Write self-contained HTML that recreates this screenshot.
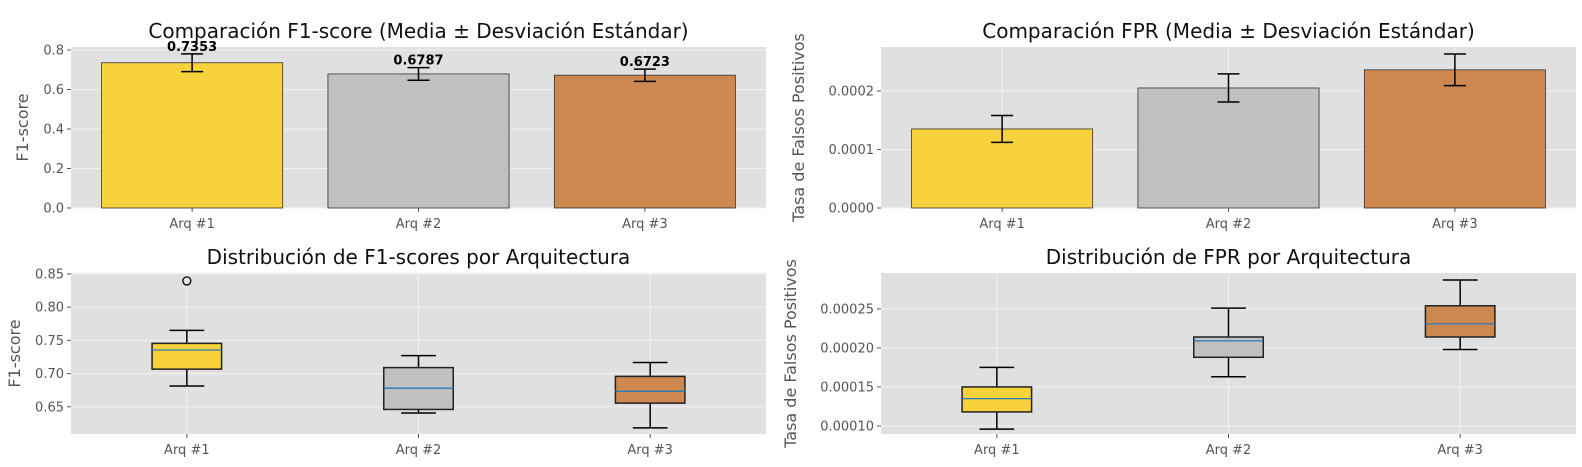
<!DOCTYPE html>
<html><head><meta charset="utf-8">
<style>
html,body{margin:0;padding:0;background:#fff;}
svg{display:block;font-family:"DejaVu Sans","Liberation Sans",sans-serif;}
</style></head>
<body>
<svg id="fig" width="1582" height="467" viewBox="0 0 1582 467" xmlns="http://www.w3.org/2000/svg"></svg>
<script>
const categories = ["Arq #1","Arq #2","Arq #3"];
const colors = ["#f8d23c","#c0c0c0","#cd884f"];
const f1Means = [0.7353,0.6787,0.6723];
const f1Stds = [0.045,0.032,0.031];
const fprMeans = [0.000135,0.000205,0.000236];
const fprStds = [0.000023,0.000024,0.000027];
const f1Ticks = [0.0,0.2,0.4,0.6,0.8];
const f1TickLabels = ["0.0","0.2","0.4","0.6","0.8"];
const fprTicks = [0,0.0001,0.0002];
const fprTickLabels = ["0.0000","0.0001","0.0002"];
// box stats: [whisLo, q1, median, q3, whisHi]
const f1Box1 = [0.6813,0.7067,0.7355,0.7455,0.765];
const f1Box2 = [0.6406,0.646,0.678,0.709,0.727];
const f1Box3 = [0.6182,0.6555,0.6733,0.6958,0.7167];
const f1Outliers = [[0.8396],[],[]];
const fprBox1 = [0.000096,0.000118,0.000135,0.00015,0.000175];
const fprBox2 = [0.000163,0.000188,0.000209,0.000214,0.000251];
const fprBox3 = [0.000198,0.000214,0.000231,0.000254,0.000287];
const fprOutliers = [[],[],[]];
const f1BoxTicks = [0.65,0.70,0.75,0.80,0.85];
const f1BoxTickLabels = ["0.65","0.70","0.75","0.80","0.85"];
const fprBoxTicks = [0.0001,0.00015,0.0002,0.00025];
const fprBoxTickLabels = ["0.00010","0.00015","0.00020","0.00025"];

const NS="http://www.w3.org/2000/svg";
const svg=document.getElementById('fig');
function mk(tag,attrs,parent){const e=document.createElementNS(NS,tag);for(const k in attrs)e.setAttribute(k,attrs[k]);(parent||svg).appendChild(e);return e;}

function axes(o){
  const g=mk('g',{});
  
  
  const y=v=>o.y1-(v-o.ymin)/(o.ymax-o.ymin)*(o.y1-o.y0);
  const x=i=>o.x0+(i-o.xmin)/(o.xmax-o.xmin)*(o.x1-o.x0);
  const bg=mk('rect',{x:o.x0,y:o.y0,width:o.x1-o.x0,height:o.y1-o.y0,fill:'#e0e0e0'},g);
  
  
  o.ticks.forEach((t,i)=>{
    const yy=y(t);
    mk('line',{x1:o.x0,x2:o.x1,y1:yy,y2:yy,stroke:'#f2f2f2','stroke-width':1},g);
    mk('line',{x1:o.x0-4,x2:o.x0,y1:yy,y2:yy,stroke:'#555','stroke-width':1},g);
    const tx=mk('text',{x:o.x0-7,y:yy+4.5,'text-anchor':'end','font-size':13,fill:'#555'},g);
    tx.textContent=o.tickLabels[i];
    
    
  });
  categories.forEach((c,i)=>{
    const xx=x(i);
    mk('line',{x1:xx,x2:xx,y1:o.y0,y2:o.y1,stroke:'#f2f2f2','stroke-width':1},g);
    mk('line',{x1:xx,x2:xx,y1:o.y1,y2:o.y1+4,stroke:'#555','stroke-width':1},g);
    const tx=mk('text',{x:xx,y:o.y1+20,'text-anchor':'middle','font-size':13,fill:'#555'},g);
    tx.textContent=c;
    
    
  });
  const t=mk('text',{x:(o.x0+o.x1)/2,y:o.y0-9,'text-anchor':'middle','font-size':20,fill:'#111'},g);
  t.textContent=o.title;
  
  
  const yl=mk('text',{x:0,y:0,'text-anchor':'middle','font-size':16,fill:'#555',transform:`translate(${o.ylx},${(o.y0+o.y1)/2}) rotate(-90)`},g);
  yl.textContent=o.ylabel;
  
  
  return {g,x,y};
}

function barChart(o,means,stds,fmt){
  const a=axes(o);
  const w=(a.x(0.4)-a.x(-0.4));
  means.forEach((m,i)=>{
    const r=mk('rect',{x:a.x(i)-w/2,y:a.y(m),width:w,height:a.y(0)-a.y(m),fill:colors[i],stroke:'#333','stroke-width':0.8},a.g);
    
    
    const hi=a.y(m+stds[i]),lo=a.y(m-stds[i]),xx=a.x(i);
    const eb=mk('g',{stroke:'#000','stroke-width':1.5},a.g);
    
    
    mk('line',{x1:xx,x2:xx,y1:hi,y2:lo},eb);
    mk('line',{x1:xx-11,x2:xx+11,y1:hi,y2:hi},eb);
    mk('line',{x1:xx-11,x2:xx+11,y1:lo,y2:lo},eb);
    if(fmt){
      const t=mk('text',{x:xx,y:hi-3,'text-anchor':'middle','font-size':13,'font-weight':'bold',fill:'#000'},a.g);
      t.textContent=fmt(m);
      
      
    }
  });
}

function boxChart(o,boxes,outliers){
  const a=axes(o);
  const w=a.x(0.15)-a.x(-0.15);
  boxes.forEach((b,i)=>{
    const xx=a.x(i);
    const bg=mk('g',{},a.g);
    
    
    mk('line',{x1:xx,x2:xx,y1:a.y(b[0]),y2:a.y(b[1]),stroke:'#000','stroke-width':1.5},bg);
    mk('line',{x1:xx,x2:xx,y1:a.y(b[3]),y2:a.y(b[4]),stroke:'#000','stroke-width':1.5},bg);
    mk('line',{x1:xx-w/4,x2:xx+w/4,y1:a.y(b[0]),y2:a.y(b[0]),stroke:'#000','stroke-width':1.5},bg);
    mk('line',{x1:xx-w/4,x2:xx+w/4,y1:a.y(b[4]),y2:a.y(b[4]),stroke:'#000','stroke-width':1.5},bg);
    mk('rect',{x:xx-w/2,y:a.y(b[3]),width:w,height:a.y(b[1])-a.y(b[3]),fill:colors[i],stroke:'#222','stroke-width':1.5},bg);
    mk('line',{x1:xx-w/2,x2:xx+w/2,y1:a.y(b[2]),y2:a.y(b[2]),stroke:'#2a7ab8','stroke-width':1.3},bg);
    outliers[i].forEach(v=>{
      const c=mk('circle',{cx:xx,cy:a.y(v),r:4,fill:'none',stroke:'#000','stroke-width':1.3},bg);
      
      
    });
  });
}

barChart({name:'f1-bar-chart',x0:71,x1:766,y0:47,y1:208,xmin:-0.535,xmax:2.535,ymin:0,ymax:0.815,
  ticks:f1Ticks,tickLabels:f1TickLabels,title:'Comparación F1-score (Media ± Desviación Estándar)',ylabel:'F1-score',ylx:28},
  f1Means,f1Stds,v=>v.toFixed(4));
barChart({name:'fpr-bar-chart',x0:881,x1:1576,y0:47,y1:208,xmin:-0.535,xmax:2.535,ymin:0,ymax:0.000275,
  ticks:fprTicks,tickLabels:fprTickLabels,title:'Comparación FPR (Media ± Desviación Estándar)',ylabel:'Tasa de Falsos Positivos',ylx:804},
  fprMeans,fprStds,null);
boxChart({name:'f1-box-chart',x0:71,x1:766,y0:273,y1:434,xmin:-0.5,xmax:2.5,ymin:0.609,ymax:0.8515,
  ticks:f1BoxTicks,tickLabels:f1BoxTickLabels,title:'Distribución de F1-scores por Arquitectura',ylabel:'F1-score',ylx:20},
  [f1Box1,f1Box2,f1Box3],f1Outliers);
boxChart({name:'fpr-box-chart',x0:881,x1:1576,y0:273,y1:434,xmin:-0.5,xmax:2.5,ymin:0.0000897,ymax:0.000296,
  ticks:fprBoxTicks,tickLabels:fprBoxTickLabels,title:'Distribución de FPR por Arquitectura',ylabel:'Tasa de Falsos Positivos',ylx:796},
  [fprBox1,fprBox2,fprBox3],fprOutliers);
</script>
</body></html>
